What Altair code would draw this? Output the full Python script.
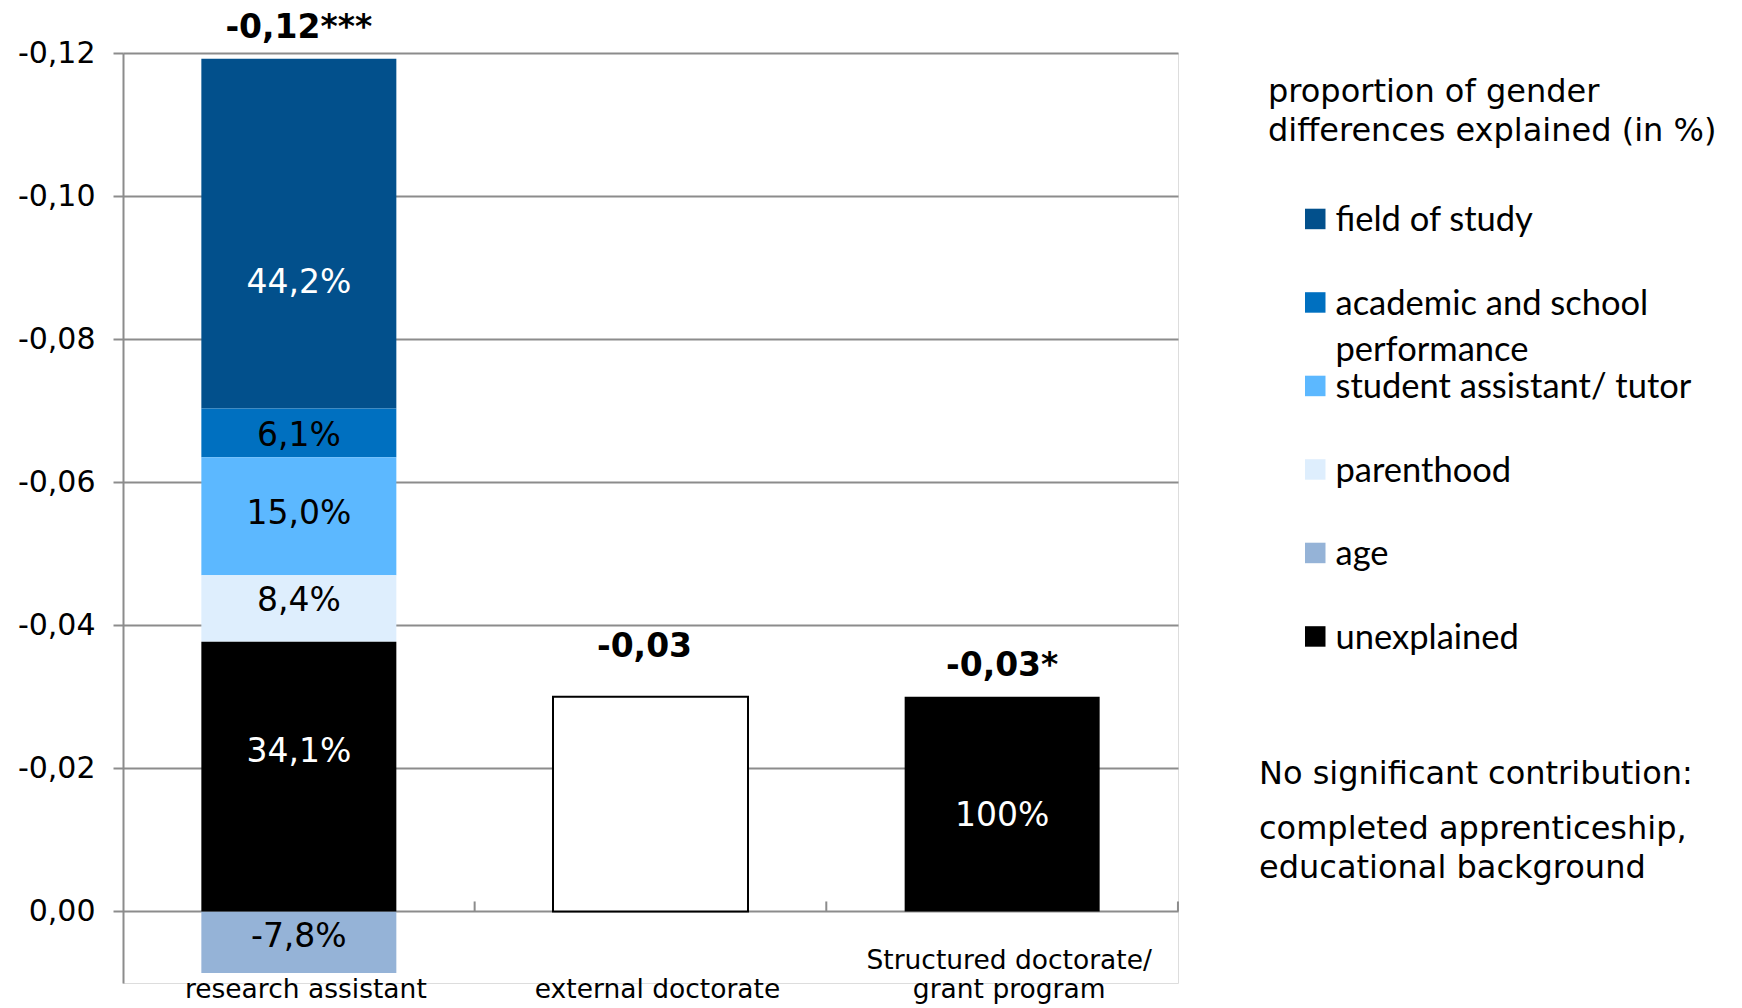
import altair as alt
import pandas as pd

# ---------------- data ----------------
categories = ["research assistant", "external doctorate", "Structured doctorate/ grant program"]

components = ["field of study", "academic and school performance", "student assistant/ tutor",
              "parenthood", "age", "unexplained"]
component_colors = ["#02508C", "#0070C0", "#5CB8FF", "#DEEEFD", "#95B3D7", "#000000"]
# stacking sequence away from zero
stack_sequence = ["unexplained", "parenthood", "student assistant/ tutor",
                  "academic and school performance", "field of study", "age"]

ra_values = [-0.0489, -0.0068, -0.0165, -0.0093, 0.0086, -0.0377]
ra_shares = ["44,2%", "6,1%", "15,0%", "8,4%", "-7,8%", "34,1%"]
# value at which each share label sits in the reference
ra_label_at = [-0.0878, -0.0664, -0.0555, -0.0434, 0.0035, -0.0223]

structured_value = -0.0300
structured_share = "100%"
structured_label_at = -0.0133
external_value = -0.0300

totals = [-0.1192, -0.0300, -0.0300]
total_labels = ["-0,12***", "-0,03", "-0,03*"]

y_ticks = [-0.12, -0.10, -0.08, -0.06, -0.04, -0.02, 0.00]
y_domain = [-0.12, 0.01]

legend_title = ["proportion of gender", "differences explained (in %)"]
note_lines = ["No significant contribution:", "completed apprenticeship,", "educational background"]

# ---------------- tables ----------------
seg_rows = []
for comp, val, share, at in zip(components, ra_values, ra_shares, ra_label_at):
    seg_rows.append({"category": categories[0], "component": comp, "value": val,
                     "share": share, "label_at": at, "rank": stack_sequence.index(comp)})
seg_rows.append({"category": categories[2], "component": "unexplained", "value": structured_value,
                 "share": structured_share, "label_at": structured_label_at,
                 "rank": stack_sequence.index("unexplained")})
segments = pd.DataFrame(seg_rows)

external = pd.DataFrame({"category": [categories[1]], "value": [external_value]})
tot = pd.DataFrame({"category": categories, "total": totals, "label": total_labels})
cats = pd.DataFrame({"category": categories})

FONT = "DejaVu Sans"
GRID = "#8c8c8c"

x_enc = alt.X(
    "category:N", sort=categories,
    scale=alt.Scale(paddingInner=0.4455, paddingOuter=0.2228),
    axis=alt.Axis(title=None, domain=False, ticks=False, tickSize=0, grid=False, labelAngle=0,
                  labelFont=FONT, labelFontSize=26.5, labelColor="black",
                  labelBaseline="line-top", labelLineHeight=29, labelPadding=-37, labelLimit=400,
                  labelOffset=7,
                  labelExpr="indexof(datum.label, '/ ') > 0 ? [slice(datum.label, 0, indexof(datum.label, '/ ') + 1), slice(datum.label, indexof(datum.label, '/ ') + 2)] : ['', datum.label]"),
)
y_scale = alt.Scale(domain=y_domain, reverse=True, nice=False, zero=False)
y_axis = alt.Axis(title=None, values=y_ticks,
                  labelExpr="(datum.value < -0.0001 ? '-' : '') + replace(format(abs(datum.value), '.2f'), '.', ',')",
                  labelFont=FONT, labelFontSize=30, labelColor="black", labelPadding=18,
                  grid=True, gridColor=GRID, gridWidth=2,
                  domainColor=GRID, domainWidth=2,
                  tickColor=GRID, tickWidth=2, tickSize=10)

bars = alt.Chart(segments).mark_bar().encode(
    x=x_enc,
    y=alt.Y("value:Q", scale=y_scale, axis=y_axis, stack="zero"),
    color=alt.Color("component:N",
                    scale=alt.Scale(domain=components, range=component_colors),
                    legend=alt.Legend(
                        title=legend_title, orient="none", legendX=1145, legendY=24,
                        titleFont=FONT, titleFontSize=32, titleFontWeight="normal",
                        titleColor="black", titleLineHeight=39, titlePadding=66,
                        titleLimit=700,
                        labelFont="Lato", labelFontSize=34.5, labelColor="black",
                        labelBaseline="alphabetic", labelLimit=500, labelOffset=3,
                        labelExpr="length(datum.label) > 25 ? [slice(datum.label, 0, lastindexof(datum.label, ' ')), slice(datum.label, lastindexof(datum.label, ' ') + 1)] : datum.label",
                        symbolType="M-1,-2.2H1V-0.2H-1Z", symbolSize=420, symbolStrokeWidth=0,
                        symbolOffset=30, gridAlign="all", rowPadding=2.5, padding=0)),
    order=alt.Order("rank:Q", sort="ascending"),
)

ext_bar = alt.Chart(external).mark_bar(fill="white", stroke="black", strokeWidth=2).encode(
    x=alt.X("category:N", sort=categories),
    y=alt.Y("value:Q"),
)

seg_text = alt.Chart(segments).mark_text(
    font=FONT, fontSize=33, baseline="middle", align="center"
).encode(
    x=alt.X("category:N", sort=categories),
    y=alt.Y("label_at:Q"),
    text="share:N",
    color=alt.condition(
        alt.FieldOneOfPredicate(field="component", oneOf=["field of study", "unexplained"]),
        alt.value("white"), alt.value("black")),
)

top_a = alt.Chart(tot).transform_filter(
    alt.FieldOneOfPredicate(field="category", oneOf=[categories[0], categories[2]])
).mark_text(font=FONT, fontSize=33, fontWeight="bold", baseline="middle", dy=-31, color="black").encode(
    x=alt.X("category:N", sort=categories), y=alt.Y("total:Q"), text="label:N")

top_b = alt.Chart(tot).transform_filter(
    alt.FieldOneOfPredicate(field="category", oneOf=[categories[1]])
).mark_text(font=FONT, fontSize=33, fontWeight="bold", baseline="middle", dy=-50, dx=-6,
            color="black").encode(
    x=alt.X("category:N", sort=categories), y=alt.Y("total:Q"), text="label:N")

ticks = alt.Chart(cats).mark_rule(color=GRID, strokeWidth=2, xOffset=175.8, y2Offset=-10).encode(
    x=alt.X("category:N", sort=categories),
    y=alt.datum(0),
    y2=alt.datum(0),
)

note_layers = []
for line, ypx in zip(note_lines, [721, 776, 815]):
    note_layers.append(
        alt.Chart(pd.DataFrame({"t": [line]})).mark_text(
            font=FONT, fontSize=32, align="left", baseline="middle", color="black"
        ).encode(text="t:N", x=alt.value(1136), y=alt.value(ypx))
    )

chart = alt.layer(bars, ext_bar, ticks, seg_text, top_a, top_b, *note_layers).properties(
    width=1055, height=930,
    autosize=alt.AutoSizeParams(type="none"),
    padding={"left": 123, "top": 53, "right": 564, "bottom": 25},
).configure_view(strokeWidth=0).configure(
    style={"guide-label": {"lineHeight": 46}}
)

chart.save("out.html", embed_options={"renderer": "svg", "actions": False})
